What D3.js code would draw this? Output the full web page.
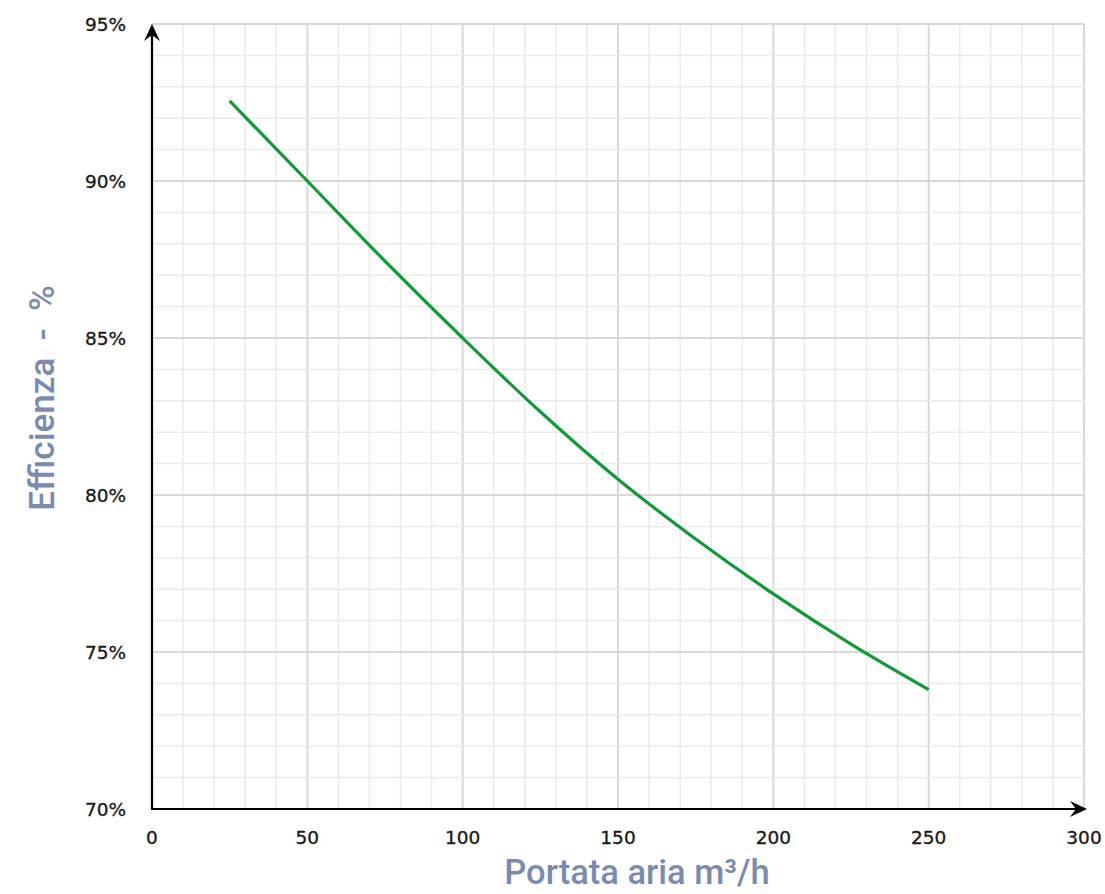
<!DOCTYPE html>
<html><head><meta charset="utf-8">
<script src="https://cdn.jsdelivr.net/npm/d3@7"></script>
<style>body{margin:0;background:#fff;} svg{display:block;}</style>
</head><body>
<script>
const flowValues = [25, 50, 75, 100, 125, 150, 175, 200, 225, 250];
const efficiencyValues = [92.55, 90.0, 87.45, 85.0, 82.65, 80.5, 78.6, 76.85, 75.25, 73.8];
const xTicks = [0, 50, 100, 150, 200, 250, 300];
const yTicks = [70, 75, 80, 85, 90, 95];
const xTitle = "Portata aria m³/h";
const yTitle = "Efficienza  -  %";

const W = 1105, H = 894;
const svg = d3.select("body").append("svg").attr("width", W).attr("height", H);
const x = d3.scaleLinear().domain([0, 300]).range([152, 1084]);
const y = d3.scaleLinear().domain([70, 95]).range([809, 24]);

const g = svg.append("g");
g.selectAll("line.vx").data(d3.range(0, 301, 10)).enter().append("line")
  .attr("x1", d => x(d)).attr("x2", d => x(d)).attr("y1", y(70)).attr("y2", y(95))
  .attr("stroke", d => d % 50 === 0 ? "#d8d8d8" : "#ebebeb")
  .attr("stroke-width", d => d % 50 === 0 ? 2 : 1.5);
g.selectAll("line.hy").data(d3.range(70, 95.01, 1)).enter().append("line")
  .attr("y1", d => y(d)).attr("y2", d => y(d)).attr("x1", x(0)).attr("x2", x(300))
  .attr("stroke", d => d % 5 === 0 ? "#d8d8d8" : "#ebebeb")
  .attr("stroke-width", d => d % 5 === 0 ? 2 : 1.5);

const line = d3.line().x((d, i) => x(flowValues[i])).y(d => y(d)).curve(d3.curveMonotoneX);
svg.append("path").datum(efficiencyValues).attr("d", line)
  .attr("fill", "none").attr("stroke", "#14993a").attr("stroke-width", 3.2);

svg.append("line").attr("x1", x(0)).attr("x2", 1080).attr("y1", y(70)).attr("y2", y(70))
  .attr("stroke", "#000").attr("stroke-width", 2.2);
svg.append("line").attr("x1", x(0)).attr("x2", x(0)).attr("y1", y(70)+1).attr("y2", 32)
  .attr("stroke", "#000").attr("stroke-width", 2.2);
const tipX = 1087, tipY = y(70);
svg.append("path").attr("d", `M${tipX},${tipY} L${tipX-17},${tipY-8} L${tipX-11},${tipY} L${tipX-17},${tipY+8} Z`).attr("fill", "#000");
const ax = x(0), ay = 24;
svg.append("path").attr("d", `M${ax},${ay} L${ax-8},${ay+17} L${ax},${ay+11} L${ax+8},${ay+17} Z`).attr("fill", "#000");

const tickFont = "DejaVu Sans, Verdana, sans-serif";
svg.selectAll("text.xt").data(xTicks).enter().append("text")
  .attr("x", d => x(d)).attr("y", 844).attr("text-anchor", "middle")
  .attr("font-family", tickFont).attr("font-size", 18.5).attr("fill", "#1a1a1a")
  .attr("stroke", "#1a1a1a").attr("stroke-width", 0.35)
  .text(d => d);
svg.selectAll("text.yt").data(yTicks).enter().append("text")
  .attr("x", 126).attr("y", d => y(d) + 7).attr("text-anchor", "end")
  .attr("font-family", tickFont).attr("font-size", 18.5).attr("fill", "#1a1a1a")
  .attr("stroke", "#1a1a1a").attr("stroke-width", 0.35)
  .text(d => d + "%");

svg.append("text").attr("x", 637).attr("y", 884).attr("text-anchor", "middle")
  .attr("font-family", "Roboto, sans-serif").attr("font-weight", 500).attr("font-size", 34.5).attr("fill", "#7b8bb0")
  .text(xTitle);
svg.append("text").attr("transform", `translate(42,398) rotate(-90)`).attr("text-anchor", "middle")
  .attr("dy", "0.35em")
  .attr("font-family", "Roboto, sans-serif").attr("font-weight", 500).attr("font-size", 35).attr("fill", "#7b8bb0")
  .attr("xml:space", "preserve")
  .text(yTitle);
</script>
</body></html>
